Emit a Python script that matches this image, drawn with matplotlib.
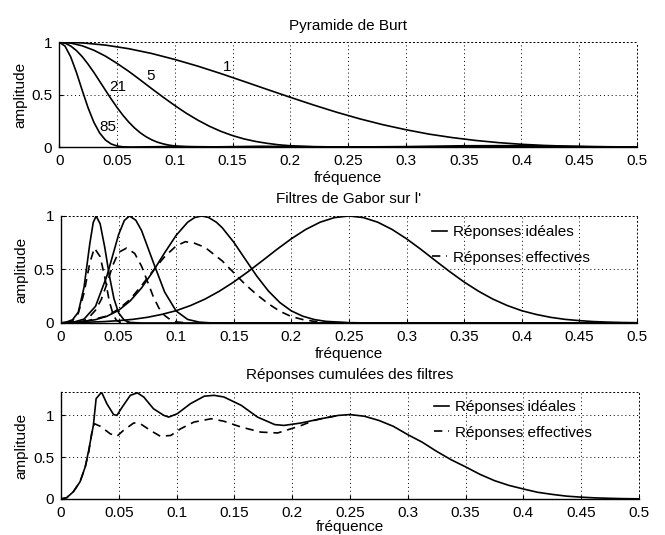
import matplotlib.pyplot as plt
import numpy as np

plt.rcParams['font.family'] = ['Liberation Sans', 'DejaVu Sans']
plt.rcParams['font.size'] = 11

# --- Pyramide de Burt ---
f_b1 = [0, 0.02, 0.04, 0.06, 0.08, 0.10, 0.12, 0.14, 0.16, 0.18, 0.20, 0.22, 0.24,
        0.26, 0.28, 0.30, 0.32, 0.34, 0.36, 0.38, 0.40, 0.42, 0.44, 0.46, 0.48, 0.50]
a_b1 = [1, 0.993, 0.972, 0.938, 0.892, 0.835, 0.771, 0.700, 0.625, 0.549, 0.474, 0.401, 0.332,
        0.269, 0.213, 0.165, 0.123, 0.090, 0.063, 0.042, 0.026, 0.015, 0.008, 0.003, 0.001, 0]
f_b5 = [0, 0.01, 0.02, 0.03, 0.04, 0.05, 0.06, 0.07, 0.08, 0.09, 0.10, 0.11, 0.12, 0.13,
        0.14, 0.15, 0.16, 0.17, 0.18, 0.19, 0.20, 0.22, 0.25, 0.30, 0.35, 0.40, 0.45, 0.50]
a_b5 = [1, 0.991, 0.965, 0.923, 0.867, 0.798, 0.723, 0.641, 0.557, 0.475, 0.396, 0.322, 0.256, 0.198,
        0.149, 0.109, 0.077, 0.053, 0.035, 0.021, 0.012, 0.003, 0, 0.004, 0.012, 0.013, 0.005, 0]
f_b21 = [0, 0.005, 0.01, 0.015, 0.02, 0.025, 0.03, 0.035, 0.04, 0.045, 0.05, 0.055, 0.06,
         0.065, 0.07, 0.075, 0.08, 0.085, 0.09, 0.095, 0.10, 0.11, 0.125, 0.175, 0.25, 0.35, 0.50]
a_b21 = [1, 0.991, 0.963, 0.919, 0.861, 0.790, 0.712, 0.627, 0.542, 0.458, 0.378, 0.305, 0.240,
         0.184, 0.137, 0.099, 0.069, 0.046, 0.030, 0.018, 0.010, 0.003, 0, 0.007, 0, 0.001, 0]
f_b85 = [0, 0.005, 0.01, 0.015, 0.02, 0.025, 0.03, 0.035, 0.04, 0.045, 0.05, 0.055, 0.0625,
         0.10, 0.15, 0.50]
a_b85 = [1, 0.963, 0.859, 0.709, 0.538, 0.374, 0.236, 0.134, 0.067, 0.029, 0.010, 0.002, 0,
         0.005, 0, 0]
burt_labels = ['1', '5', '21', '85']
burt_label_pos = [(0.145, 0.76), (0.079, 0.68), (0.051, 0.57), (0.042, 0.19)]

# --- Filtres de Gabor sur l' ---
f_ga = [0, 0.005, 0.01, 0.015, 0.02, 0.025, 0.028, 0.0305, 0.034, 0.038, 0.042, 0.046,
        0.05, 0.055, 0.06, 0.07, 0.5]
a_ga = [0, 0.01, 0.03, 0.10, 0.333, 0.739, 0.939, 1, 0.927, 0.707, 0.442, 0.227,
        0.095, 0.025, 0.005, 0, 0]
f_gb = [0, 0.01, 0.02, 0.03, 0.04, 0.05, 0.055, 0.0595, 0.065, 0.07, 0.08, 0.09,
        0.10, 0.11, 0.12, 0.13, 0.14, 0.5]
a_gb = [0, 0.005, 0.036, 0.156, 0.444, 0.825, 0.958, 1, 0.96, 0.863, 0.571, 0.289,
        0.112, 0.033, 0.008, 0.001, 0, 0]
f_gc = [0, 0.02, 0.03, 0.04, 0.05, 0.06, 0.07, 0.08, 0.09, 0.10, 0.11, 0.116, 0.122,
        0.128, 0.135, 0.14, 0.15, 0.16, 0.17, 0.18, 0.19, 0.20, 0.21, 0.22, 0.23, 0.25, 0.27, 0.5]
a_gc = [0, 0.014, 0.031, 0.063, 0.118, 0.205, 0.328, 0.483, 0.656, 0.819, 0.942, 0.985, 1,
        0.987, 0.941, 0.890, 0.755, 0.596, 0.438, 0.300, 0.191, 0.113, 0.063, 0.032, 0.015, 0.003, 0, 0]
f_gd = [0, 0.0125, 0.025, 0.0375, 0.05, 0.0625, 0.075, 0.0875, 0.10, 0.1125, 0.125,
        0.1375, 0.15, 0.1625, 0.175, 0.1875, 0.20, 0.2125, 0.225, 0.2375, 0.25,
        0.2625, 0.275, 0.2875, 0.30, 0.3125, 0.325, 0.3375, 0.35, 0.3625, 0.375,
        0.3875, 0.40, 0.4125, 0.425, 0.4375, 0.45, 0.4625, 0.475, 0.4875, 0.50]
a_gd = [0.0025, 0.0045, 0.008, 0.013, 0.022, 0.034, 0.053, 0.080, 0.115, 0.163, 0.223,
        0.297, 0.383, 0.480, 0.583, 0.688, 0.787, 0.874, 0.942, 0.985, 1,
        0.985, 0.942, 0.874, 0.787, 0.688, 0.583, 0.480, 0.383, 0.297, 0.223,
        0.163, 0.115, 0.080, 0.053, 0.034, 0.022, 0.013, 0.008, 0.0045, 0.0025]
f_ea = [0.005, 0.01, 0.015, 0.02, 0.025, 0.029, 0.034, 0.038, 0.042, 0.045, 0.048, 0.052, 0.06]
a_ea = [0.003, 0.02, 0.09, 0.28, 0.56, 0.70, 0.62, 0.43, 0.20, 0.09, 0.025, 0.005, 0]
f_eb = [0.015, 0.02, 0.025, 0.03, 0.035, 0.04, 0.045, 0.05, 0.057, 0.064, 0.07, 0.075,
        0.08, 0.085, 0.09, 0.095, 0.10, 0.11]
a_eb = [0.005, 0.02, 0.06, 0.12, 0.22, 0.37, 0.54, 0.66, 0.70, 0.65, 0.53, 0.39,
        0.25, 0.14, 0.07, 0.03, 0.01, 0]
f_ec = [0.02, 0.04, 0.05, 0.06, 0.07, 0.08, 0.09, 0.10, 0.108, 0.116, 0.125, 0.14, 0.15,
        0.16, 0.17, 0.18, 0.19, 0.20, 0.21, 0.22, 0.24, 0.26]
a_ec = [0.013, 0.065, 0.13, 0.22, 0.35, 0.49, 0.62, 0.72, 0.76, 0.745, 0.707, 0.58, 0.47,
        0.36, 0.265, 0.18, 0.11, 0.06, 0.032, 0.015, 0.003, 0]

# --- Reponses cumulees des filtres ---
f_cs = [0, 0.005, 0.0107, 0.0165, 0.021, 0.024, 0.028, 0.0304, 0.034, 0.0354, 0.0397,
        0.0455, 0.0484, 0.053, 0.06, 0.066, 0.0716, 0.08, 0.089, 0.0933, 0.1006, 0.112,
        0.124, 0.1325, 0.141, 0.156, 0.17, 0.185, 0.193, 0.208, 0.225, 0.24, 0.25,
        0.2625, 0.275, 0.2875, 0.30, 0.3125, 0.325, 0.3375, 0.35, 0.3625, 0.375,
        0.3875, 0.40, 0.4125, 0.425, 0.4375, 0.45, 0.4625, 0.475, 0.4875, 0.50]
a_cs = [0, 0.016, 0.087, 0.206, 0.385, 0.583, 0.88, 1.2, 1.26, 1.27, 1.14,
        1.01, 1.0, 1.10, 1.24, 1.27, 1.22, 1.08, 1.0, 0.98, 1.02, 1.14,
        1.23, 1.24, 1.22, 1.12, 0.98, 0.89, 0.88, 0.91, 0.96, 1.0, 1.01,
        0.99, 0.94, 0.87, 0.77, 0.68, 0.57, 0.47, 0.385, 0.295, 0.22,
        0.163, 0.12, 0.08, 0.055, 0.034, 0.022, 0.013, 0.008, 0.004, 0.002]
f_ce = [0, 0.005, 0.0107, 0.0165, 0.021, 0.024, 0.0265, 0.029, 0.034, 0.0426, 0.0484,
        0.054, 0.063, 0.0687, 0.0774, 0.086, 0.095, 0.1035, 0.115, 0.13, 0.141, 0.156,
        0.173, 0.1875, 0.199, 0.208, 0.219, 0.225, 0.24]
a_ce = [0, 0.016, 0.087, 0.206, 0.385, 0.56, 0.78, 0.90, 0.87, 0.78, 0.75,
        0.82, 0.91, 0.90, 0.82, 0.75, 0.76, 0.84, 0.92, 0.96, 0.93, 0.86,
        0.80, 0.79, 0.84, 0.88, 0.94, 0.96, 1.0]

xticks = np.arange(0, 0.501, 0.05)
xticklabels = ['0', '0.05', '0.1', '0.15', '0.2', '0.25', '0.3', '0.35', '0.4', '0.45', '0.5']
lw = 1.2
dash = (5, 3.5)

fig = plt.figure(figsize=(6.65, 5.35), dpi=100)
ax1 = fig.add_axes([0.089, 0.7252, 0.869, 0.196])
ax2 = fig.add_axes([0.0917, 0.3963, 0.866, 0.200])
ax3 = fig.add_axes([0.0917, 0.0673, 0.869, 0.200])


def style(ax, title, ytop, yticks, xpad=2):
    ax.set_xlim(0, 0.5)
    ax.set_ylim(0, ytop)
    ax.set_xticks(xticks)
    ax.set_xticklabels(xticklabels)
    ax.set_yticks(yticks)
    ax.set_yticklabels(['0', '0.5', '1'])
    ax.grid(True, color='black', linestyle=(0, (1, 3)), linewidth=0.7)
    ax.tick_params(direction='in', length=3, width=0.8, pad=5, labelsize=11)
    for s in ['top', 'right']:
        ax.spines[s].set_linestyle((0, (1, 3)))
        ax.spines[s].set_linewidth(0.7)
    for s in ['left', 'bottom']:
        ax.spines[s].set_linewidth(1.0)
    ax.set_title(title, fontsize=11, pad=9)
    ax.set_xlabel('fréquence', fontsize=11, labelpad=xpad)
    ax.set_ylabel('amplitude', fontsize=11, labelpad=3)


# top
for f, a in [(f_b1, a_b1), (f_b5, a_b5), (f_b21, a_b21), (f_b85, a_b85)]:
    ax1.plot(f, a, color='black', linewidth=lw)
for lab, (x, y) in zip(burt_labels, burt_label_pos):
    ax1.text(x, y, lab, fontsize=11, ha='center', va='center')
style(ax1, 'Pyramide de Burt', 1, [0, 0.5, 1])

# middle
for f, a in [(f_ga, a_ga), (f_gb, a_gb), (f_gc, a_gc), (f_gd, a_gd)]:
    l_id, = ax2.plot(f, a, color='black', linewidth=lw)
for f, a in [(f_ea, a_ea), (f_eb, a_eb), (f_ec, a_ec)]:
    l_ef, = ax2.plot(f, a, color='black', linewidth=lw, dashes=dash)
ax2.legend([l_id, l_ef], ['Réponses idéales', 'Réponses effectives'],
           loc='center left', bbox_to_anchor=(0.644, 0.73), frameon=False,
           borderpad=0, borderaxespad=0, handlelength=1.0, handletextpad=0.4,
           labelspacing=0.75, fontsize=11)
style(ax2, "Filtres de Gabor sur l'", 1, [0, 0.5, 1])

# bottom
l_id3, = ax3.plot(f_cs, a_cs, color='black', linewidth=lw)
l_ef3, = ax3.plot(f_ce, a_ce, color='black', linewidth=lw, dashes=dash)
ax3.legend([l_id3, l_ef3], ['Réponses idéales', 'Réponses effectives'],
           loc='center left', bbox_to_anchor=(0.645, 0.738), frameon=False,
           borderpad=0, borderaxespad=0, handlelength=1.0, handletextpad=0.4,
           labelspacing=0.75, fontsize=11)
style(ax3, 'Réponses cumulées des filtres', 1.28, [0, 0.5, 1], xpad=0)

fig.savefig('out.png', dpi=100)
